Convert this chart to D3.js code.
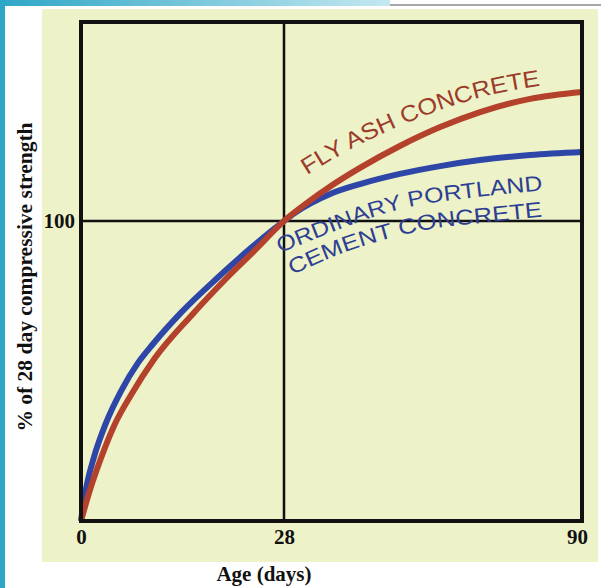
<!DOCTYPE html>
<html>
<head>
<meta charset="utf-8">
<script src="https://cdn.jsdelivr.net/npm/d3@7"></script>
<style>
  body { margin: 0; background: #fff; }
  svg { display: block; }
</style>
</head>
<body>
<div id="chart"></div>
<script>
// data (days, % of 28 day strength)
var opcDays     = [0, 0.69, 1.79, 3.45, 5.52, 7.86, 9.93, 13.9, 18.8, 23.3, 26.8, 28, 29.9, 37.6, 43.8, 52.1, 60.5, 68.8, 79.2, 90];
var opcStrength = [0, 10.7, 21.3, 32.7, 43.3, 52.7, 59, 69.7, 81, 90.7, 97.7, 100, 102.3, 109, 112.3, 115.7, 118.3, 120.3, 122, 123];
var flyDays     = [0, 1.1, 2.76, 4.55, 6.9, 10.1, 15.3, 20.1, 24.3, 27, 28, 33, 37.6, 43.8, 52.1, 60.5, 68.8, 79.2, 90];
var flyStrength = [0, 9.3, 21, 31.7, 42, 54, 68.7, 81, 91, 97.7, 100, 106.3, 111.5, 117.7, 125, 131.3, 136.3, 140.7, 143];
var xTicks = [0, 28, 90];
var yTicks = [100];

// where the curved labels run (days, %)
var flyLabelDays = [32.8, 39.7, 50.1, 60.5, 70.9, 82.3];
var flyLabelPct  = [115.3, 122, 130.3, 137, 142, 145.3];
var opcLabel1Days = [27.45, 37.6, 45.9, 54.2, 66.7, 82.9];
var opcLabel1Pct  = [89.3, 96, 101, 104.7, 107.7, 110.3];
var opcLabel2Days = [29.7, 39.7, 49.4, 58.4, 68.8, 82.9];
var opcLabel2Pct  = [82, 89, 94, 97.3, 99.3, 101.6];

var svgWidth = 601;
var svgHeight = 588;

var margin = { top: 22, right: 19, bottom: 67, left: 81 };
var width = svgWidth - margin.left - margin.right;
var height = svgHeight - margin.top - margin.bottom;

var svg = d3.select("#chart")
  .append("svg")
  .attr("width", svgWidth)
  .attr("height", svgHeight);

var defs = svg.append("defs");

// page decoration: cyan bars and the paper
var grad = defs.append("linearGradient")
  .attr("id", "topbar").attr("x1", "0%").attr("x2", "100%");
grad.append("stop").attr("offset", "0%").attr("stop-color", "#2ea6c7");
grad.append("stop").attr("offset", "100%").attr("stop-color", "#c4e8f0");

svg.append("rect").attr("x", 0).attr("y", 0).attr("width", 390).attr("height", 6).attr("fill", "url(#topbar)");
svg.append("rect").attr("x", 390).attr("y", 4).attr("width", 211).attr("height", 2).attr("fill", "#a8a8a8");
svg.append("rect").attr("x", 0).attr("y", 0).attr("width", 5).attr("height", svgHeight).attr("fill", "#2ea6c7");
svg.append("rect").attr("x", 42).attr("y", 9).attr("width", 556).attr("height", 553).attr("fill", "#edf2c9");

var chartGroup = svg.append("g")
  .attr("transform", `translate(${margin.left}, ${margin.top})`);

// x axis is stretched before day 28
var xScale = d3.scaleLinear()
  .domain([0, 28, 90])
  .range([0, 203, width]);

var yScale = d3.scaleLinear()
  .domain([0, height / 3])
  .range([height, 0]);

// reference lines at 28 days and 100%
chartGroup.selectAll(".vline")
  .data([28])
  .enter().append("line")
  .attr("x1", d => xScale(d)).attr("x2", d => xScale(d))
  .attr("y1", 0).attr("y2", height)
  .attr("stroke", "#111").attr("stroke-width", 2.5);

chartGroup.selectAll(".hline")
  .data(yTicks)
  .enter().append("line")
  .attr("x1", 0).attr("x2", width)
  .attr("y1", d => yScale(d)).attr("y2", d => yScale(d))
  .attr("stroke", "#111").attr("stroke-width", 2.5);

var line = d3.line()
  .x(d => xScale(d[0]))
  .y(d => yScale(d[1]))
  .curve(d3.curveMonotoneX);

var zip = (a, b) => a.map((d, i) => [d, b[i]]);

chartGroup.append("path")
  .datum(zip(opcDays, opcStrength))
  .attr("d", line)
  .attr("fill", "none")
  .attr("stroke", "#2e46a7")
  .attr("stroke-width", 6);

chartGroup.append("path")
  .datum(zip(flyDays, flyStrength))
  .attr("d", line)
  .attr("fill", "none")
  .attr("stroke", "#b3412b")
  .attr("stroke-width", 6);

// frame
chartGroup.append("rect")
  .attr("x", 0).attr("y", 0)
  .attr("width", width).attr("height", height)
  .attr("fill", "none")
  .attr("stroke", "#111")
  .attr("stroke-width", 4);

// axes
var bottomAxis = d3.axisBottom(xScale).tickValues(xTicks).tickSize(0).tickPadding(8);
var leftAxis = d3.axisLeft(yScale).tickValues(yTicks).tickSize(0).tickPadding(6);

var xAxisG = chartGroup.append("g")
  .attr("transform", `translate(0, ${height})`)
  .call(bottomAxis);
xAxisG.select(".domain").remove();
xAxisG.selectAll("text")
  .attr("font-family", "Liberation Serif, Times New Roman, serif")
  .attr("font-weight", 700)
  .attr("font-size", 21)
  .attr("fill", "#111")
  .attr("dx", (d, i) => i === 2 ? -5 : 0);

var yAxisG = chartGroup.append("g").call(leftAxis);
yAxisG.select(".domain").remove();
yAxisG.selectAll("text")
  .attr("font-family", "Liberation Serif, Times New Roman, serif")
  .attr("font-weight", 700)
  .attr("font-size", 21)
  .attr("fill", "#111");

// curved labels that follow the lines
function curvedLabel(id, days, pct, txt, color, size, len) {
  chartGroup.append("path")
    .attr("id", id)
    .datum(zip(days, pct))
    .attr("d", line)
    .attr("fill", "none");
  chartGroup.append("text")
    .attr("font-family", "Liberation Sans, Arial, sans-serif")
    .attr("font-size", size)
    .attr("fill", color)
    .append("textPath")
    .attr("href", "#" + id)
    .attr("textLength", len)
    .attr("lengthAdjust", "spacingAndGlyphs")
    .text(txt);
}

curvedLabel("flyPath", flyLabelDays, flyLabelPct, "FLY ASH CONCRETE", "#9c3b2a", 23, 252);
curvedLabel("opcPath1", opcLabel1Days, opcLabel1Pct, "ORDINARY PORTLAND", "#2e3f93", 21.5, 272);
curvedLabel("opcPath2", opcLabel2Days, opcLabel2Pct, "CEMENT CONCRETE", "#2e3f93", 21.5, 259);

// axes labels
svg.append("text")
  .attr("transform", "translate(32, 277) rotate(-90)")
  .attr("text-anchor", "middle")
  .attr("font-family", "Liberation Serif, Times New Roman, serif")
  .attr("font-weight", 700)
  .attr("font-size", 21.5)
  .attr("fill", "#111")
  .text("% of 28 day compressive strength");

svg.append("text")
  .attr("x", 264)
  .attr("y", 581)
  .attr("text-anchor", "middle")
  .attr("font-family", "Liberation Serif, Times New Roman, serif")
  .attr("font-weight", 700)
  .attr("font-size", 21)
  .attr("fill", "#111")
  .text("Age (days)");
</script>
</body>
</html>
